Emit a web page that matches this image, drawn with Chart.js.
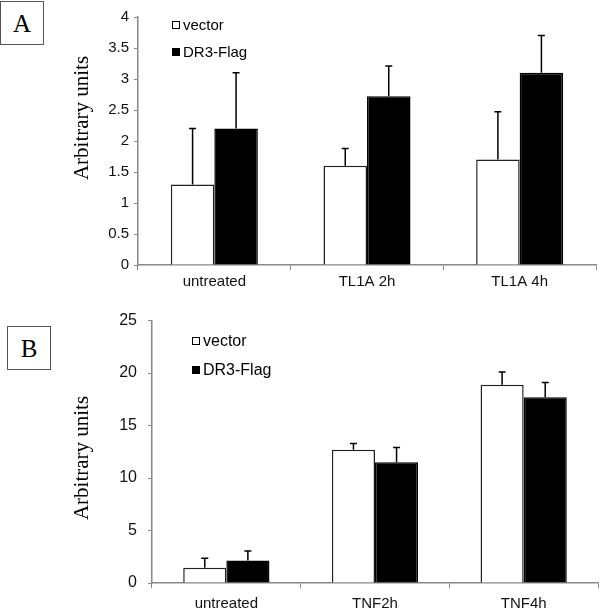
<!DOCTYPE html>
<html>
<head>
<meta charset="utf-8">
<script src="https://cdn.jsdelivr.net/npm/chart.js@4.4.1/dist/chart.umd.min.js"></script>
<style>
  body{ margin:0; background:#fff; width:600px; height:610px; position:relative; overflow:hidden; }
  canvas{ position:absolute; left:0; }
  #cA{ top:0; } #cB{ top:300px; }
  .panel{ position:absolute; width:42px; height:42px; border:1.5px solid #555; box-sizing:content-box;
    font:25px "Liberation Serif","Times New Roman",serif; text-align:center; line-height:44px; color:#000; }
</style>
</head>
<body>
<div class="panel" style="left:0;top:1px;">A</div>
<div class="panel" style="left:7px;top:326px;">B</div>
<canvas id="cA" width="600" height="300"></canvas>
<canvas id="cB" width="600" height="310"></canvas>
<script>
// panel A
const categoriesA = ['untreated', 'TL1A 2h', 'TL1A 4h'];
const vectorA = [1.3, 1.6, 1.7];
const vectorErrA = [0.9, 0.28, 0.77];
const dr3A = [2.2, 2.72, 3.1];
const dr3ErrA = [0.9, 0.49, 0.6];
// panel B
const categoriesB = ['untreated', 'TNF2h', 'TNF4h'];
const vectorB = [1.45, 12.7, 18.9];
const vectorErrB = [0.9, 0.6, 1.2];
const dr3B = [2.15, 11.5, 17.7];
const dr3ErrB = [0.9, 1.4, 1.4];
const seriesNames = ['vector', 'DR3-Flag'];
const yTicksA = { min: 0, max: 4, step: 0.5 };
const yTicksB = { min: 0, max: 25, step: 5 };
const yTitle = 'Arbitrary units';

const SANS = '"Liberation Sans", Arial, sans-serif';
const SERIF = '"Liberation Serif", "Times New Roman", serif';

const errorBars = {
  id: 'errorBars',
  afterDatasetsDraw(chart){
    const {ctx} = chart, y = chart.scales.y;
    ctx.save();
    ctx.strokeStyle = '#000'; ctx.lineWidth = 1.5;
    chart.data.datasets.forEach((ds, di) => {
      chart.getDatasetMeta(di).data.forEach((bar, i) => {
        const top = y.getPixelForValue(ds.data[i] + ds.err[i]);
        ctx.beginPath();
        ctx.moveTo(bar.x, bar.y); ctx.lineTo(bar.x, top);
        ctx.moveTo(bar.x - 3.5, top); ctx.lineTo(bar.x + 3.5, top);
        ctx.stroke();
      });
    });
    ctx.restore();
  }
};

const extras = {
  id: 'extras',
  afterDraw(chart, args, o){
    const {ctx} = chart;
    ctx.save();
    // y-axis title
    ctx.translate(o.titleX, o.titleY); ctx.rotate(-Math.PI / 2);
    ctx.fillStyle = '#000'; ctx.font = '21px ' + SERIF;
    ctx.textAlign = 'center'; ctx.textBaseline = 'middle';
    ctx.fillText(yTitle, 0, 0);
    ctx.restore();
    // legend
    ctx.save();
    ctx.font = o.legendFont + 'px ' + SANS; ctx.textBaseline = 'middle'; ctx.textAlign = 'left';
    chart.data.datasets.forEach((ds, i) => {
      const cy = o.legendY + i * o.legendGap;
      ctx.fillStyle = ds.backgroundColor; ctx.strokeStyle = '#000'; ctx.lineWidth = 1;
      ctx.fillRect(o.legendX, cy - 4, 8, 8); ctx.strokeRect(o.legendX + 0.5, cy - 3.5, 7, 7);
      ctx.fillStyle = '#000';
      ctx.fillText(ds.label, o.legendX + 11, cy + 1);
    });
    ctx.restore();
  }
};

function makeChart(id, cats, vec, vecErr, dr3, dr3Err, yt, lay){
  return new Chart(document.getElementById(id), {
    type: 'bar',
    data: {
      labels: cats,
      datasets: [
        { label: seriesNames[0], data: vec, err: vecErr, backgroundColor: '#fff', borderColor: '#222', borderWidth: 1.5 },
        { label: seriesNames[1], data: dr3, err: dr3Err, backgroundColor: '#000', borderColor: '#000', borderWidth: 1.5 }
      ]
    },
    options: {
      responsive: false, animation: false, devicePixelRatio: 1,
      layout: { padding: { top: 17, right: lay.right, left: 0, bottom: 0 } },
      datasets: { bar: { categoryPercentage: lay.cat, barPercentage: 1 } },
      scales: {
        x: {
          grid: { drawOnChartArea: false, tickLength: 5, color: '#888' },
          border: { color: '#888', width: 1.5 },
          ticks: { color: '#111', font: { family: SANS, size: 15 }, padding: lay.xPad },
          afterFit(s){ s.height = lay.xH; }
        },
        y: {
          min: yt.min, max: yt.max,
          grid: { drawOnChartArea: false, tickLength: 4, color: '#888' },
          border: { color: '#888', width: 1.5 },
          ticks: { stepSize: yt.step, color: '#111', font: { family: SANS, size: lay.yFont }, padding: lay.yPad,
            callback: v => String(v) },
          afterFit(s){ s.width = lay.yW; }
        }
      },
      plugins: {
        legend: { display: false }, tooltip: { enabled: false },
        extras: { titleX: 82, titleY: lay.titleY, legendX: lay.legX, legendY: lay.legY, legendGap: lay.legGap, legendFont: lay.legFont }
      }
    },
    plugins: [errorBars, extras]
  });
}

makeChart('cA', categoriesA, vectorA, vectorErrA, dr3A, dr3ErrA, yTicksA,
  { right: 4, cat: 0.57, xPad: 3, xH: 35, yW: 138, yFont: 15, yPad: 5, titleY: 118, legX: 172, legY: 25, legGap: 27, legFont: 15 });
makeChart('cB', categoriesB, vectorB, vectorErrB, dr3B, dr3ErrB, yTicksB,
  { right: 2, cat: 0.58, xPad: 7, xH: 27, yW: 152, yFont: 16, yPad: 11, titleY: 158, legX: 192, legY: 41, legGap: 29, legFont: 16 });
</script>
</body>
</html>
